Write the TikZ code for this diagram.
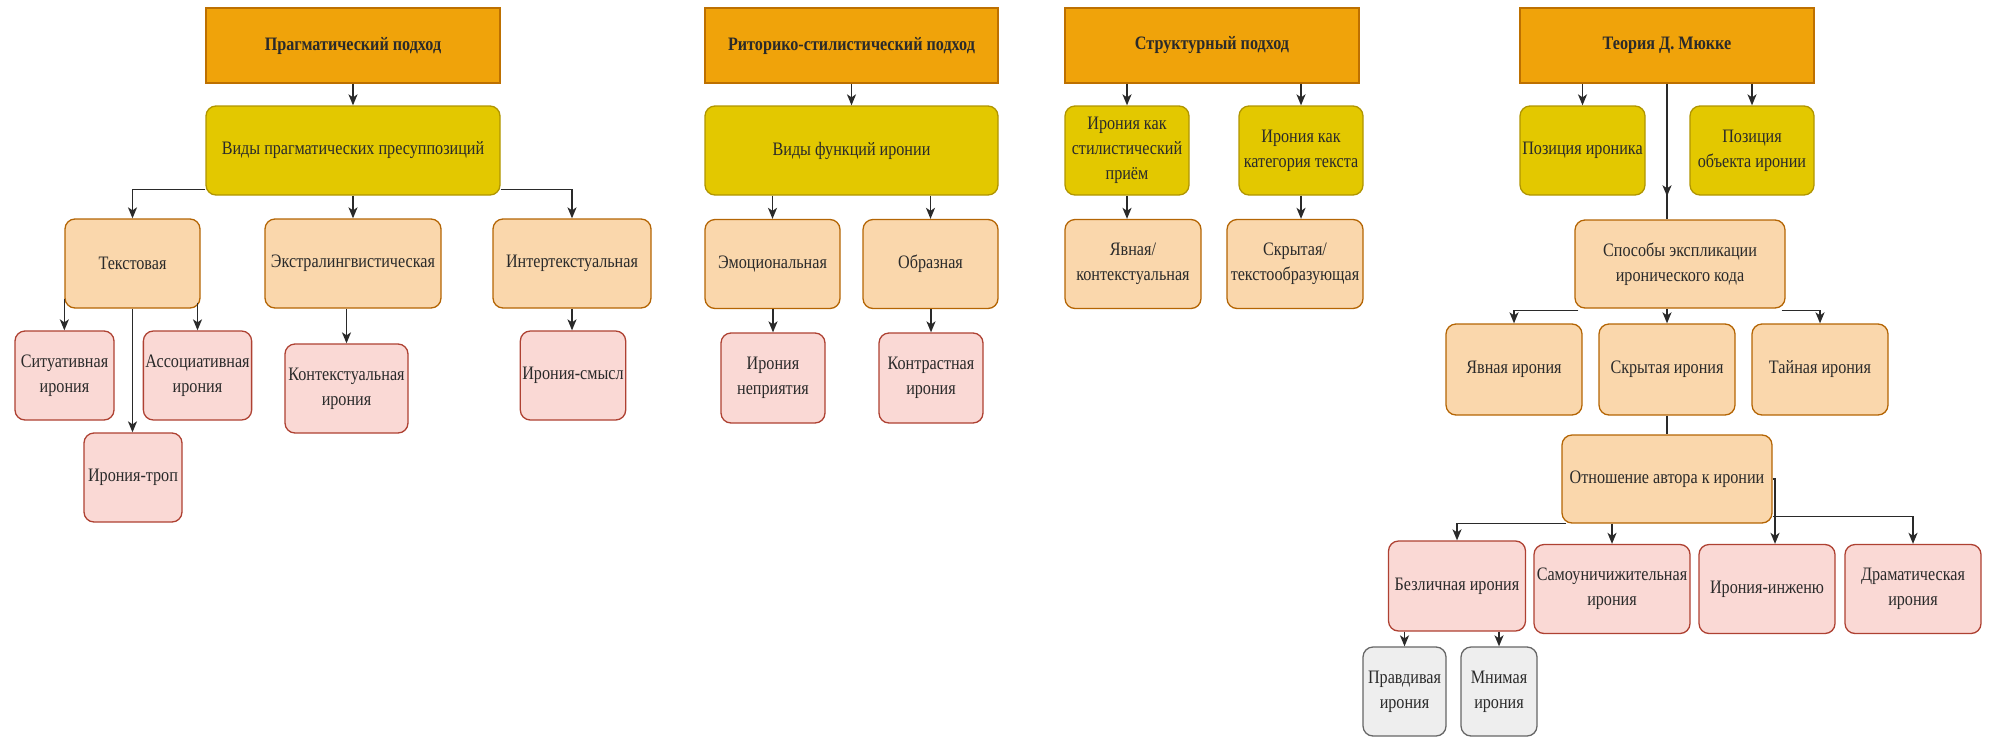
\documentclass[tikz,border=0pt]{standalone}
\usepackage{fontspec}
\setmainfont{Liberation Serif}[FakeStretch=0.85]
\usetikzlibrary{arrows.meta,decorations.markings,calc}
\definecolor{hdrfill}{HTML}{F0A30A}
\definecolor{hdrline}{HTML}{BD7000}
\definecolor{yelfill}{HTML}{E3C800}
\definecolor{yelline}{HTML}{B09500}
\definecolor{lorfill}{HTML}{FAD7AC}
\definecolor{lorline}{HTML}{B46504}
\definecolor{pnkfill}{HTML}{FAD9D5}
\definecolor{pnkline}{HTML}{AE4132}
\definecolor{gryfill}{HTML}{EEEEEE}
\definecolor{gryline}{HTML}{666666}
\definecolor{txt}{HTML}{2A2A2A}
\tikzset{
  base/.style={draw, line width=1.3pt, inner sep=2pt, align=center, text=txt,
    font=\fontsize{19}{25}\selectfont},
  hdr/.style={base, fill=hdrfill, draw=hdrline, font=\bfseries\fontsize{19}{25}\selectfont},
  yel/.style={base, rounded corners=10pt, fill=yelfill, draw=yelline},
  lor/.style={base, rounded corners=10pt, fill=lorfill, draw=lorline},
  pnk/.style={base, rounded corners=10pt, fill=pnkfill, draw=pnkline},
  gry/.style={base, rounded corners=10pt, fill=gryfill, draw=gryline},
  sz/.style 2 args={minimum width=#1pt, minimum height=#2pt},
  tip/.tip={Stealth[length=11pt,width=9pt,inset=3pt]},
  ln/.style={line width=1.5pt, draw=txt},
  arr/.style={ln, -tip},
  midarr/.style={ln, postaction={decorate}, decoration={markings,
    mark=at position #1 with {\arrow{tip}}}}
}
\begin{document}
\begin{tikzpicture}[x=1pt, y=-1pt]
\useasboundingbox (0,0) rectangle (1989,737);

% ---- Pragmatic approach ----
\node[hdr, sz={294}{75}] (prag) at (353,45.5) {Прагматический подход};
\node[yel, sz={294}{89}] (vprag) at (353,150.5) {Виды прагматических пресуппозиций};
\node[lor, sz={135}{89}] (tekst) at (132.5,263.5) {Текстовая};
\node[lor, sz={176}{89}] (ekstra) at (353,263.5) {Экстралингвистическая};
\node[lor, sz={158}{89}] (inter) at (572,263.5) {Интертекстуальная};
\node[pnk, sz={99}{89}] (sit) at (64.5,375.5) {Ситуативная\\ирония};
\node[pnk, sz={105}{89}] (assoc) at (197.5,375.5) {Ассоциативная\\ирония};
\node[pnk, sz={98}{89}] (trop) at (133,477.5) {Ирония-троп};
\node[pnk, sz={123}{89}] (kont) at (346.5,388.5) {Контекстуальная\\ирония};
\node[pnk, sz={104}{89}] (smysl) at (573,375.5) {Ирония-смысл};

\draw[arr] (prag) -- (vprag);
\draw[arr] ([yshift=6pt]vprag.south west) -| (tekst.north);
\draw[arr] (vprag) -- (ekstra);
\draw[arr] ([yshift=6pt]vprag.south east) -| (inter.north);
\draw[arr] ([yshift=10pt]tekst.south west) -- (tekst.south west |- sit.north);
\draw[arr] ([yshift=6pt]tekst.south -| assoc.north) -- (assoc.north);
\draw[arr] (tekst.south) -- (tekst.south |- trop.north);
\draw[arr] (ekstra.south -| kont.north) -- (kont.north);
\draw[arr] (inter.south) -- (inter.south |- smysl.north);

% ---- Rhetoric-stylistic approach ----
\node[hdr, sz={293}{75}] (rit) at (851.5,45.5) {Риторико-стилистический подход};
\node[yel, sz={293}{89}] (vfunc) at (851.5,150.5) {Виды функций иронии};
\node[lor, sz={135}{89}] (emoc) at (772.5,264) {Эмоциональная};
\node[lor, sz={135}{89}] (obraz) at (930.5,264) {Образная};
\node[pnk, sz={104}{90}] (neprin) at (773,378) {Ирония\\неприятия};
\node[pnk, sz={104}{90}] (kontr) at (931,378) {Контрастная\\ирония};

\draw[arr] (rit) -- (vfunc);
\draw[arr] (vfunc.south -| emoc.north) -- (emoc.north);
\draw[arr] (vfunc.south -| obraz.north) -- (obraz.north);
\draw[arr] (emoc.south -| neprin.north) -- (neprin.north);
\draw[arr] (obraz.south -| kontr.north) -- (kontr.north);

% ---- Structural approach ----
\node[hdr, sz={294}{75}] (str) at (1212,45.5) {Структурный подход};
\node[yel, sz={124}{89}] (stil) at (1127,150.5) {Ирония как\\стилистический\\приём};
\node[yel, sz={124}{89}] (kat) at (1301,150.5) {Ирония как\\категория текста};
\node[lor, sz={136}{89}] (yavk) at (1133,264) {Явная/\\контекстуальная};
\node[lor, sz={136}{89}] (skrt) at (1295,264) {Скрытая/\\текстообразующая};

\draw[arr] (str.south -| stil.north) -- (stil.north);
\draw[arr] (str.south -| kat.north) -- (kat.north);
\draw[arr] (stil.south) -- (stil.south |- yavk.north);
\draw[arr] (kat.south) -- (kat.south |- skrt.north);

% ---- Mücke ----
\node[hdr, sz={294}{75}] (teo) at (1667,45.5) {Теория Д. Мюкке};
\node[yel, sz={125}{89}] (pozi) at (1582.5,150.5) {Позиция ироника};
\node[yel, sz={124}{89}] (pozo) at (1752,150.5) {Позиция\\объекта иронии};
\node[lor, sz={210}{88}] (spos) at (1680,264) {Способы экспликации\\иронического кода};
\node[lor, sz={136}{91}] (yavi) at (1514,369.5) {Явная ирония};
\node[lor, sz={136}{91}] (skri) at (1667,369.5) {Скрытая ирония};
\node[lor, sz={136}{91}] (tayi) at (1820,369.5) {Тайная ирония};
\node[lor, sz={210}{88}] (otn) at (1667,479) {Отношение автора к иронии};
\node[pnk, sz={137}{90}] (bezl) at (1457,586) {Безличная ирония};
\node[pnk, sz={156}{89}] (samo) at (1612,589) {Самоуничижительная\\ирония};
\node[pnk, sz={136}{89}] (inzh) at (1767,589) {Ирония-инженю};
\node[pnk, sz={136}{89}] (dram) at (1913,589) {Драматическая\\ирония};
\node[gry, sz={83}{89}] (prav) at (1404.5,691.5) {Правдивая\\ирония};
\node[gry, sz={76}{89}] (mnim) at (1499,691.5) {Мнимая\\ирония};

\draw[arr] (teo.south -| pozi.north) -- (pozi.north);
\draw[arr] (teo.south -| pozo.north) -- (pozo.north);
\draw[midarr=0.83] (teo.south) -- (teo.south |- spos.north);
\draw[arr] ([xshift=4pt,yshift=-2pt]spos.south west) -| (yavi.north);
\draw[arr] (spos.south -| skri.north) -- (skri.north);
\draw[arr] ([xshift=-4pt,yshift=-2pt]spos.south east) -| (tayi.north);
\draw[ln] (skri.south) -- (skri.south |- otn.north);
\draw[arr] ([xshift=5pt]otn.south west) -| (bezl.north);
\draw[arr] (otn.south -| samo.north) -- (samo.north);
\draw[arr] (otn.east) -| ([xshift=8pt]inzh.north);
\draw[arr] ([yshift=7pt]otn.south east) -| (dram.north);
\draw[arr] (bezl.south -| prav.north) -- (prav.north);
\draw[arr] (bezl.south -| mnim.north) -- (mnim.north);
\end{tikzpicture}
\end{document}
